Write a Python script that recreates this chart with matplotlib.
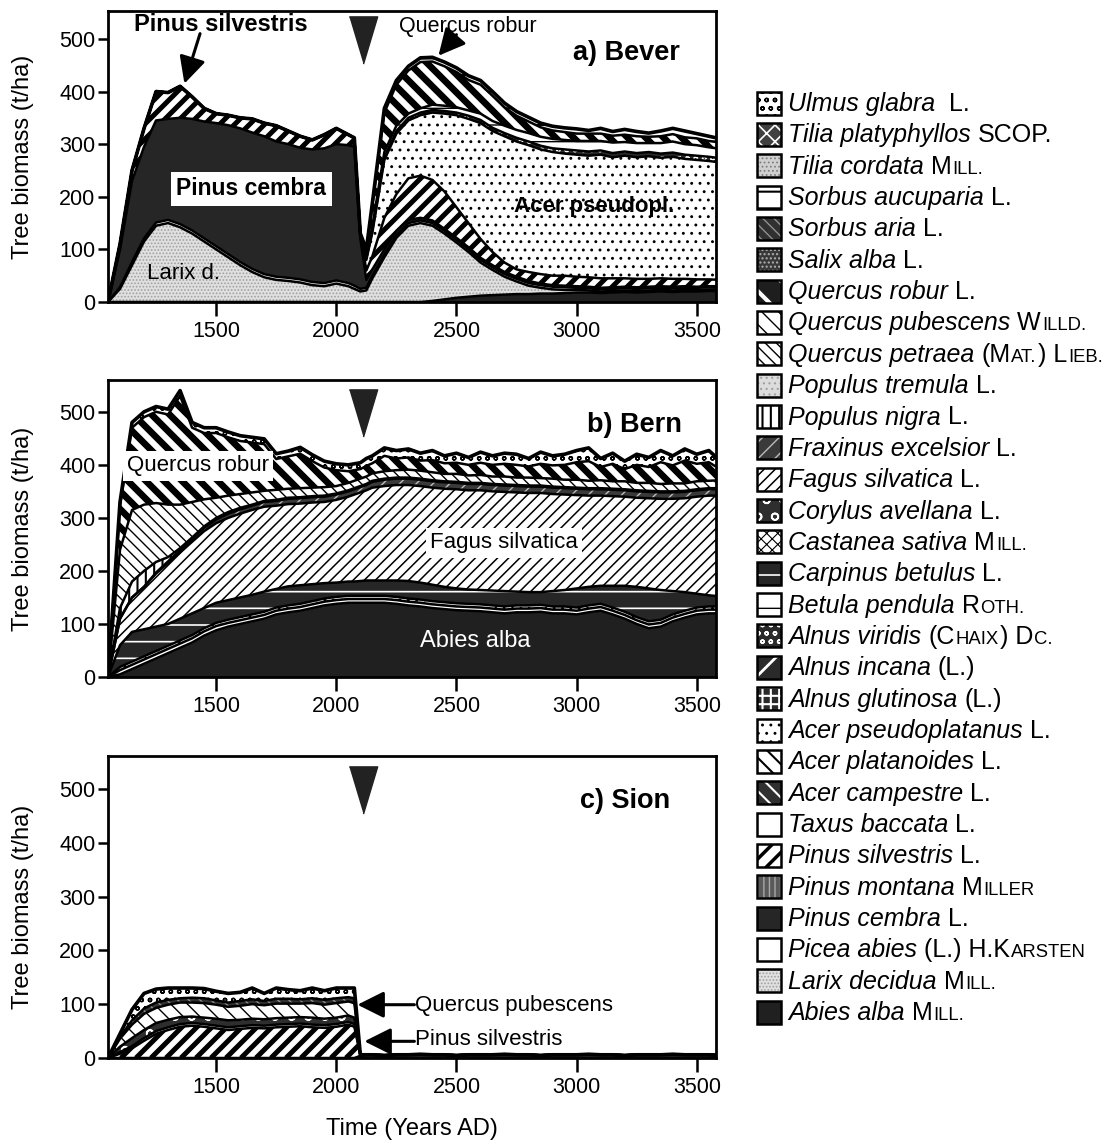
import numpy as np
import matplotlib
matplotlib.use("Agg")
import matplotlib.pyplot as plt
from matplotlib.patches import Rectangle
from matplotlib.collections import LineCollection
from matplotlib.transforms import IdentityTransform

plt.rcParams['font.family'] = ['Liberation Sans', 'DejaVu Sans']
plt.rcParams['axes.linewidth'] = 2.0

W, H, DPI = 1108, 1144, 100

# ---------------------------------------------------------------- data
YEARS = [1050, 1100, 1150, 1200, 1250, 1300, 1350, 1400, 1450, 1500,
         1550, 1600, 1650, 1700, 1750, 1800, 1850, 1900, 1950, 2000,
         2050, 2075, 2100, 2125, 2150, 2200, 2250, 2300, 2350, 2400,
         2450, 2500, 2550, 2600, 2650, 2700, 2750, 2800, 2850, 2900,
         2950, 3000, 3050, 3100, 3150, 3200, 3250, 3300, 3350, 3400,
         3450, 3500, 3550, 3600]

# a) Bever  (biomass per species, t/ha, stacked bottom -> top)
BEVER_ABIES = [0,0,0,0,0,0,0,0,0,0, 0,0,0,0,0,0,0,0,0,0, 0,0,0,0,0,0,0,0,0,2,
               5,8,10,12,13,14,15,15,16,16, 17,18,18,17,18,19,18,19,20,19, 20,20,21,21]
BEVER_LARIX = [0,25,70,115,145,150,142,130,115,100, 85,70,57,47,42,40,37,32,30,35,
               30,25,20,22,45,85,122,145,150,143, 125,105,85,63,48,34,24,16,11,8,
               6,5,4,3,3,3,3,3,3,3, 3,3,3,3]
BEVER_PICEA = [0,3,6,6,6,6,6,6,6,6, 6,6,6,6,6,6,6,6,6,6, 6,6,5,5,5,5,5,5,5,5,
               5,5,5,5,5,5,5,5,5,5, 5,4,4,4,4,4,4,4,4,4, 4,4,4,4]
BEVER_CEMBRA = [0,72,154,174,194,192,202,212,222,234, 245,254,259,262,257,254,250,252,256,259,
                262,264,95,15,12,10,8,6,5,5, 4,4,4,4,4,4,4,4,3,3,
                3,3,3,3,3,3,3,3,3,3, 3,2,2,2]
BEVER_SILV = [0,10,20,35,55,50,60,42,25,18, 19,20,26,25,30,25,22,18,26,30,
              20,17,10,18,25,60,70,79,80,77, 71,58,46,36,25,18,14,17,18,18,
              19,18,18,18,17,16,16,15,15,15, 14,14,13,12]
BEVER_ACER = [0,0,0,0,0,0,0,0,0,0, 0,0,0,0,0,0,0,0,0,0, 0,0,0,20,45,110,115,110,115,128,
              148,175,198,220,230,240,243,241,237,235, 232,232,231,235,230,233,231,233,229,232,
              228,227,225,223]
BEVER_BETULA = [0,0,0,0,0,0,0,0,0,0, 0,0,0,0,0,0,0,0,0,0, 0,0,0,5,8,10,10,8,8,10,
                10,10,10,12,13,14,15,16,17,18, 18,18,20,18,20,18,19,17,20,21, 20,20,18,18]
BEVER_ALNVIR = [0,0,0,0,0,0,0,0,0,0, 0,0,0,0,0,0,0,0,0,0, 0,0,0,3,4,5,5,5,5,5,
                5,5,6,6,6,6,7,7,7,7, 8,8,8,8,8,8,8,8,8,8, 8,8,8,8]
BEVER_QROBUR = [0,0,0,0,0,0,0,0,0,0, 0,0,0,0,0,0,0,0,0,0, 0,0,0,10,40,75,78,82,88,82,
                75,67,58,55,48,35,27,22,18,16, 15,14,14,14,13,14,13,12,13,14, 13,13,12,12]
BEVER_SORBUS = [0,0,0,0,0,0,0,0,0,0, 0,0,0,0,0,0,0,0,0,0, 0,0,0,2,4,8,8,8,8,8,
                8,8,8,8,8,8,8,8,8,8, 8,9,6,10,8,10,9,7,10,11, 12,9,9,7]

# b) Bern
BERN_ABIES = [0,5,15,25,35,45,55,65,78,88, 95,100,105,110,118,122,125,130,135,138,
              140,140,140,140,140,140,138,135,133,130, 128,126,125,124,122,120,122,122,123,120,
              120,118,122,125,118,110,100,92,95,105, 112,118,120,120]
BERN_PICEA = [0,8,8,8,8,8,8,8,8,8, 7,7,7,7,7,7,7,7,7,7, 7,7,7,7,7,7,7,7,7,7,
              7,7,7,7,7,7,7,7,7,7, 7,7,7,7,7,7,7,7,7,7, 7,7,7,7]
BERN_ACER = [0,6,6,6,6,6,6,6,6,6, 6,6,6,6,6,6,6,6,6,6, 6,6,6,6,6,6,6,6,6,6,
             6,6,6,6,6,6,6,6,6,6, 6,6,6,6,6,6,6,6,6,6, 6,6,6,6]
BERN_CARPINUS = [0,41,56,51,46,41,41,41,38,38, 37,37,37,38,35,36,35,32,29,27,
                 27,27,28,29,29,29,31,33,32,31, 29,28,27,27,28,29,26,25,24,29,
                 31,36,35,34,41,49,57,62,56,44, 35,26,21,19]
BERN_FAGUS = [0,50,65,80,100,115,125,135,145,150, 155,158,160,160,157,155,154,154,153,156,
              160,164,167,170,175,178,180,181,182,183, 185,187,187,188,187,187,187,187,187,183,
              180,176,172,170,169,168,168,170,172,174, 177,183,188,190]
BERN_FRAXINUS = [0,0,0,0,2,3,4,5,6,7, 8,8,8,9,9,10,10,10,10,10,
                 10,10,10,10,11,12,12,12,12,12, 12,12,12,12,12,12,12,12,12,12,
                 12,12,12,12,12,12,12,12,12,12, 12,12,12,12]
BERN_POPNIGRA = [0,20,30,30,20,8,4,3,3,3, 3,3,2,2,2,2,2,2,2,2, 2,2,2,2,2,2,2,2,2,2,
                 2,2,2,2,2,2,2,2,2,2, 2,2,2,2,2,2,2,2,2,2, 2,2,2,2]
BERN_QPETRAEA = [0,110,135,125,111,99,82,67,51,38, 31,26,23,19,19,17,17,16,16,14,
                 14,14,14,14,14,14,14,15,15,15, 14,15,14,15,14,15,14,15,14,15,
                 14,15,14,15,14,15,14,15,14,15, 14,15,14,15]
BERN_QROBUR = [0,82,155,165,172,170,205,140,125,122, 110,100,94,88,58,61,65,50,37,30,
               22,20,18,20,19,29,22,23,19,23, 20,21,20,23,22,24,24,21,27,25,
               28,33,37,25,33,23,34,30,41,34, 43,33,35,20]
BERN_ULMUS = [0,8,10,10,10,10,10,10,10,10, 10,10,10,10,10,10,12,12,12,12,
              12,12,12,14,14,15,15,16,14,18, 14,18,14,20,17,20,20,15,22,18,
              20,22,25,16,20,15,20,18,22,18, 22,18,22,16]

# c) Sion
SION_ABIES = [0,0,0,0,0,0,0,0,0,0, 0,0,0,0,0,0,0,0,0,0, 0,0,4,6,6,5,6,6,7,6,
              6,5,6,6,6,7,6,6,5,6, 6,6,7,6,6,5,6,6,6,7, 6,6,6,5]
SION_SILV = [0,8,18,32,45,52,58,60,58,55, 52,54,56,55,57,58,59,57,56,58,
             62,58,2,0,0,0,0,0,0,0, 0,0,0,0,0,0,0,0,0,0, 0,0,0,0,0,0,0,0,0,0, 0,0,0,0]
SION_TAXUS = [0,3,4,5,5,5,5,5,5,5, 5,5,5,5,5,5,5,5,5,5, 5,5,0,0,0,0,0,0,0,0,
              0,0,0,0,0,0,0,0,0,0, 0,0,0,0,0,0,0,0,0,0, 0,0,0,0]
SION_CORYLUS = [0,10,15,15,15,14,13,12,12,13, 13,12,12,12,12,12,12,13,12,12,
                12,12,0,0,0,0,0,0,0,0, 0,0,0,0,0,0,0,0,0,0, 0,0,0,0,0,0,0,0,0,0, 0,0,0,0]
SION_QPUB = [0,15,25,30,28,28,27,26,27,26, 25,26,27,26,27,26,25,27,26,27,
             26,27,0,0,0,0,0,0,0,0, 0,0,0,0,0,0,0,0,0,0, 0,0,0,0,0,0,0,0,0,0, 0,0,0,0]
SION_SORBARIA = [0,3,8,10,10,9,8,9,9,8, 8,9,9,8,9,9,8,9,9,9,
                 8,9,0,0,0,0,0,0,0,0, 0,0,0,0,0,0,0,0,0,0, 0,0,0,0,0,0,0,0,0,0, 0,0,0,0]
SION_ULMUS = [0,6,20,28,25,22,19,18,18,17, 17,16,21,14,20,17,16,19,17,19,
              17,19,0,0,0,0,0,0,0,0, 0,0,0,0,0,0,0,0,0,0, 0,0,0,0,0,0,0,0,0,0, 0,0,0,0]

X_TICKS = [1500, 2000, 2500, 3000, 3500]
Y_TICKS = [0, 100, 200, 300, 400, 500]
EVENT_YEAR = 2110

LEGEND_SPECIES = ['Ulmus glabra', 'Tilia platyphyllos', 'Tilia cordata', 'Sorbus aucuparia',
                  'Sorbus aria', 'Salix alba', 'Quercus robur', 'Quercus pubescens',
                  'Quercus petraea', 'Populus tremula', 'Populus nigra', 'Fraxinus excelsior',
                  'Fagus silvatica', 'Corylus avellana', 'Castanea sativa', 'Carpinus betulus',
                  'Betula pendula', 'Alnus viridis', 'Alnus incana', 'Alnus glutinosa',
                  'Acer pseudoplatanus', 'Acer platanoides', 'Acer campestre', 'Taxus baccata',
                  'Pinus silvestris', 'Pinus montana', 'Pinus cembra', 'Picea abies',
                  'Larix decidua', 'Abies alba']
# {..} = small capitals
LEGEND_AUTHORS = [' L.', 'SCOP.', 'M{ILL.}', 'L.', 'L.', 'L.', 'L.', 'W{ILLD.}',
                  '(M{AT.}) L{IEB.}', 'L.', 'L.', 'L.', 'L.', 'L.', 'M{ILL.}', 'L.',
                  'R{OTH.}', '(C{HAIX}) D{C.}', '(L.)', '(L.)', 'L.', 'L.', 'L.', 'L.',
                  'L.', 'M{ILLER}', 'L.', '(L.) H.K{ARSTEN}', 'M{ILL.}', 'M{ILL.}']

# species -> (face, hatch, hatch colour, hatch linewidth)
STYLE = {
    'Ulmus glabra': ('white', 'oo', 'black', 1.0),
    'Tilia platyphyllos': ('#404040', 'xx', 'white', 1.2),
    'Tilia cordata': ('#d0d0d0', '....', '#808080', 0.8),
    'Sorbus aucuparia': ('white', '-', 'black', 1.5),
    'Sorbus aria': ('#303030', '\\\\\\', '#909090', 1.0),
    'Salix alba': ('#383838', '....', '#b0b0b0', 1.0),
    'Quercus robur': ('#1e1e1e', '\\', 'white', 3.0),
    'Quercus pubescens': ('white', '\\\\', 'black', 1.0),
    'Quercus petraea': ('white', '\\\\\\', 'black', 1.0),
    'Populus tremula': ('#dcdcdc', '...', '#a0a0a0', 0.8),
    'Populus nigra': ('white', '||', 'black', 1.5),
    'Fraxinus excelsior': ('#3a3a3a', '//', '#bbbbbb', 1.0),
    'Fagus silvatica': ('white', '///', 'black', 1.1),
    'Corylus avellana': ('#2e2e2e', 'o', 'white', 1.2),
    'Castanea sativa': ('white', 'xxx', 'black', 0.8),
    'Carpinus betulus': ('#262626', '-', 'white', 1.2),
    'Betula pendula': ('white', '-', 'black', 1.0),
    'Alnus viridis': ('#2a2a2a', 'oo', 'white', 1.0),
    'Alnus incana': ('#2a2a2a', '/', 'white', 2.0),
    'Alnus glutinosa': ('#2a2a2a', '++', 'white', 1.5),
    'Acer pseudoplatanus': ('white', '..', 'black', 0.9),
    'Acer platanoides': ('white', '\\\\', 'black', 1.5),
    'Acer campestre': ('#303030', '\\\\', 'white', 1.5),
    'Taxus baccata': ('white', None, 'black', 1.0),
    'Pinus silvestris': ('white', '//', 'black', 2.5),
    'Pinus montana': ('#5a5a5a', '|||', '#a8a8a8', 1.0),
    'Pinus cembra': ('#262626', None, 'black', 1.0),
    'Picea abies': ('white', None, 'black', 1.0),
    'Larix decidua': ('#e0e0e0', '.....', '#a0a0a0', 0.8),
    'Abies alba': ('#202020', None, 'black', 1.0),
}
# species drawn in the panels with broad stripes: (direction, spacing px, line width pt)
STRIPES = {'Pinus silvestris': ('/', 15, 3.6), 'Quercus robur': ('\\', 18, 4.8)}

BEVER = [('Abies alba', BEVER_ABIES), ('Larix decidua', BEVER_LARIX),
         ('Picea abies', BEVER_PICEA), ('Pinus cembra', BEVER_CEMBRA),
         ('Pinus silvestris', BEVER_SILV), ('Acer pseudoplatanus', BEVER_ACER),
         ('Alnus viridis', BEVER_ALNVIR), ('Betula pendula', BEVER_BETULA),
         ('Quercus robur', BEVER_QROBUR), ('Sorbus aucuparia', BEVER_SORBUS)]
BERN = [('Abies alba', BERN_ABIES), ('Picea abies', BERN_PICEA),
        ('Acer pseudoplatanus', BERN_ACER), ('Carpinus betulus', BERN_CARPINUS),
        ('Fagus silvatica', BERN_FAGUS), ('Fraxinus excelsior', BERN_FRAXINUS),
        ('Populus nigra', BERN_POPNIGRA), ('Quercus petraea', BERN_QPETRAEA),
        ('Quercus robur', BERN_QROBUR), ('Ulmus glabra', BERN_ULMUS)]
SION = [('Abies alba', SION_ABIES), ('Pinus silvestris', SION_SILV),
        ('Taxus baccata', SION_TAXUS), ('Corylus avellana', SION_CORYLUS),
        ('Quercus pubescens', SION_QPUB), ('Sorbus aria', SION_SORBARIA),
        ('Ulmus glabra', SION_ULMUS)]

# ---------------------------------------------------------------- figure
fig = plt.figure(figsize=(W / DPI, H / DPI), dpi=DPI)


def px_rect(left, top, right, bottom):
    return [left / W, 1 - bottom / H, (right - left) / W, (bottom - top) / H]


def styled(artist_fn, hlw):
    with plt.rc_context({'hatch.linewidth': hlw}):
        art = artist_fn()
    if hasattr(art, 'set_hatch_linewidth'):
        art.set_hatch_linewidth(hlw)
    return art


def add_stripes(ax, coll, direction, spacing, lw):
    bb = ax.bbox
    x0, y0, x1, y1 = bb.x0, bb.y0, bb.x1, bb.y1
    h = y1 - y0
    segs = []
    pos = x0 - h - spacing
    while pos < x1 + h + spacing:
        if direction == '/':
            segs.append([(pos, y0), (pos + h, y1)])
        else:
            segs.append([(pos + h, y0), (pos, y1)])
        pos += spacing
    lc = LineCollection(segs, colors='black', linewidths=lw,
                        transform=IdentityTransform(), zorder=2.5)
    ax.add_collection(lc, autolim=False)
    lc.set_clip_path(coll.get_paths()[0], ax.transData)
    lc.set_clip_box(ax.bbox)


def draw_stack(ax, layers):
    x = np.array(YEARS, dtype=float)
    base = np.zeros_like(x)
    for i, (name, vals) in enumerate(layers):
        top = base + np.array(vals, dtype=float)
        face, hatch, hc, hlw = STYLE[name]
        b0, t0 = base.copy(), top.copy()
        if name in STRIPES:
            coll = ax.fill_between(x, b0, t0, facecolor='white', linewidth=0, zorder=2)
            add_stripes(ax, coll, *STRIPES[name])
        else:
            styled(lambda: ax.fill_between(x, b0, t0, facecolor=face, edgecolor=hc,
                                           hatch=hatch, linewidth=0, zorder=2), hlw)
        ax.plot(x, top, color='black', lw=1.8 if i < len(layers) - 1 else 2.6,
                solid_joinstyle='round', zorder=3)
        base = top


def setup_axes(ax, ymax):
    ax.set_xlim(1050, 3580)
    ax.set_ylim(0, ymax)
    ax.set_xticks(X_TICKS)
    ax.set_yticks(Y_TICKS)
    ax.tick_params(axis='x', direction='out', length=10, width=1.8, labelsize=15.5, pad=4)
    ax.tick_params(axis='y', direction='out', length=7, width=1.8, labelsize=15.5, pad=2)
    for s in ax.spines.values():
        s.set_zorder(4)
    ax.set_ylabel('Tree biomass (t/ha)', fontsize=17)
    ax.yaxis.set_label_coords(-0.122, 0.5)


def event_marker(ax):
    ax.plot([EVENT_YEAR], [497], linestyle='none',
            marker=[(-0.6, 1), (0.6, 1), (0, -1)], markersize=34,
            color='#222222', zorder=6)


ARROW = dict(arrowstyle='-|>,head_length=0.9,head_width=0.45', lw=2.2,
             color='black', shrinkA=0, shrinkB=0, mutation_scale=18)

# a) Bever
ax_a = fig.add_axes(px_rect(108, 11, 716, 302))
draw_stack(ax_a, BEVER)
setup_axes(ax_a, 553)
event_marker(ax_a)
ax_a.text(1160, 528, 'Pinus silvestris', fontsize=17, fontweight='bold', va='center', zorder=7)
ax_a.annotate('', xy=(1368, 415), xytext=(1433, 510), arrowprops=ARROW, zorder=7)
ax_a.text(2262, 523, 'Quercus robur', fontsize=15.5, va='center', zorder=7)
ax_a.annotate('', xy=(2425, 468), xytext=(2500, 508), arrowprops=ARROW, zorder=7)
ax_a.text(3430, 474, 'a) Bever', fontsize=19.5, fontweight='bold', ha='right', va='center', zorder=7)
ax_a.text(1335, 215, 'Pinus cembra', fontsize=16.5, fontweight='bold', va='center', zorder=7,
          bbox=dict(facecolor='white', edgecolor='none', pad=4))
ax_a.text(1212, 55, 'Larix d.', fontsize=16, va='center', zorder=7)
ax_a.text(2740, 181, 'Acer pseudopl.', fontsize=16, fontweight='bold', va='center', zorder=7)

# b) Bern
ax_b = fig.add_axes(px_rect(108, 380, 716, 677))
draw_stack(ax_b, BERN)
setup_axes(ax_b, 560)
event_marker(ax_b)
ax_b.text(1130, 398, 'Quercus robur', fontsize=16, va='center', zorder=7,
          bbox=dict(facecolor='white', edgecolor='none', pad=3))
ax_b.text(2390, 253, 'Fagus silvatica', fontsize=16, va='center', zorder=7,
          bbox=dict(facecolor='white', edgecolor='none', pad=3))
ax_b.text(2350, 68, 'Abies alba', fontsize=17, color='white', va='center', zorder=7)
ax_b.text(3440, 475, 'b) Bern', fontsize=19.5, fontweight='bold', ha='right', va='center', zorder=7)

# c) Sion
ax_c = fig.add_axes(px_rect(108, 756, 716, 1058))
draw_stack(ax_c, SION)
setup_axes(ax_c, 561)
event_marker(ax_c)
ax_c.text(3390, 478, 'c) Sion', fontsize=19.5, fontweight='bold', ha='right', va='center', zorder=7)
ax_c.annotate('', xy=(2088, 99), xytext=(2325, 99), arrowprops=ARROW, zorder=7)
ax_c.text(2328, 98, 'Quercus pubescens', fontsize=16, va='center', zorder=7)
ax_c.annotate('', xy=(2117, 31), xytext=(2325, 31), arrowprops=ARROW, zorder=7)
ax_c.text(2328, 34, 'Pinus silvestris', fontsize=16, va='center', zorder=7)
ax_c.set_xlabel('Time (Years AD)', fontsize=17)
ax_c.xaxis.set_label_coords(0.5, -0.2)

# ---------------------------------------------------------------- legend
LEG_Y0, LEG_DY = 103, 31.35
BOX_X, BOX_W, BOX_H = 757, 24, 23
TEXT_X = 788
LEG_FS = 18


def parse_author(s):
    segs, buf, small = [], '', False
    for ch in s:
        if ch == '{':
            if buf:
                segs.append((buf, small))
            buf, small = '', True
        elif ch == '}':
            segs.append((buf, True))
            buf, small = '', False
        else:
            buf += ch
    if buf:
        segs.append((buf, small))
    return segs


renderer = fig.canvas.get_renderer()
for i, (sp, auth) in enumerate(zip(LEGEND_SPECIES, LEGEND_AUTHORS)):
    yc = LEG_Y0 + i * LEG_DY
    face, hatch, hc, hlw = STYLE[sp]
    x0, y0 = BOX_X / W, 1 - (yc + BOX_H / 2) / H
    rect = styled(lambda: Rectangle((x0, y0), BOX_W / W, BOX_H / H, transform=fig.transFigure,
                                    facecolor=face, edgecolor=hc, hatch=hatch, lw=0), hlw)
    fig.add_artist(rect)
    fig.add_artist(Rectangle((x0, y0), BOX_W / W, BOX_H / H, transform=fig.transFigure,
                             fill=False, edgecolor='black', lw=1.8))
    base = yc + 8
    t = fig.text(TEXT_X / W, 1 - base / H, sp, fontsize=LEG_FS, style='italic', va='baseline')
    xp = t.get_window_extent(renderer).x1 + 7
    if auth.startswith(' '):
        xp += 7
        auth = auth.strip()
    for seg, small in parse_author(auth):
        t = fig.text(xp / W, 1 - base / H, seg, fontsize=LEG_FS * (0.74 if small else 1.0),
                     va='baseline')
        xp = t.get_window_extent(renderer).x1 + 1

fig.savefig('out.png', dpi=DPI)
